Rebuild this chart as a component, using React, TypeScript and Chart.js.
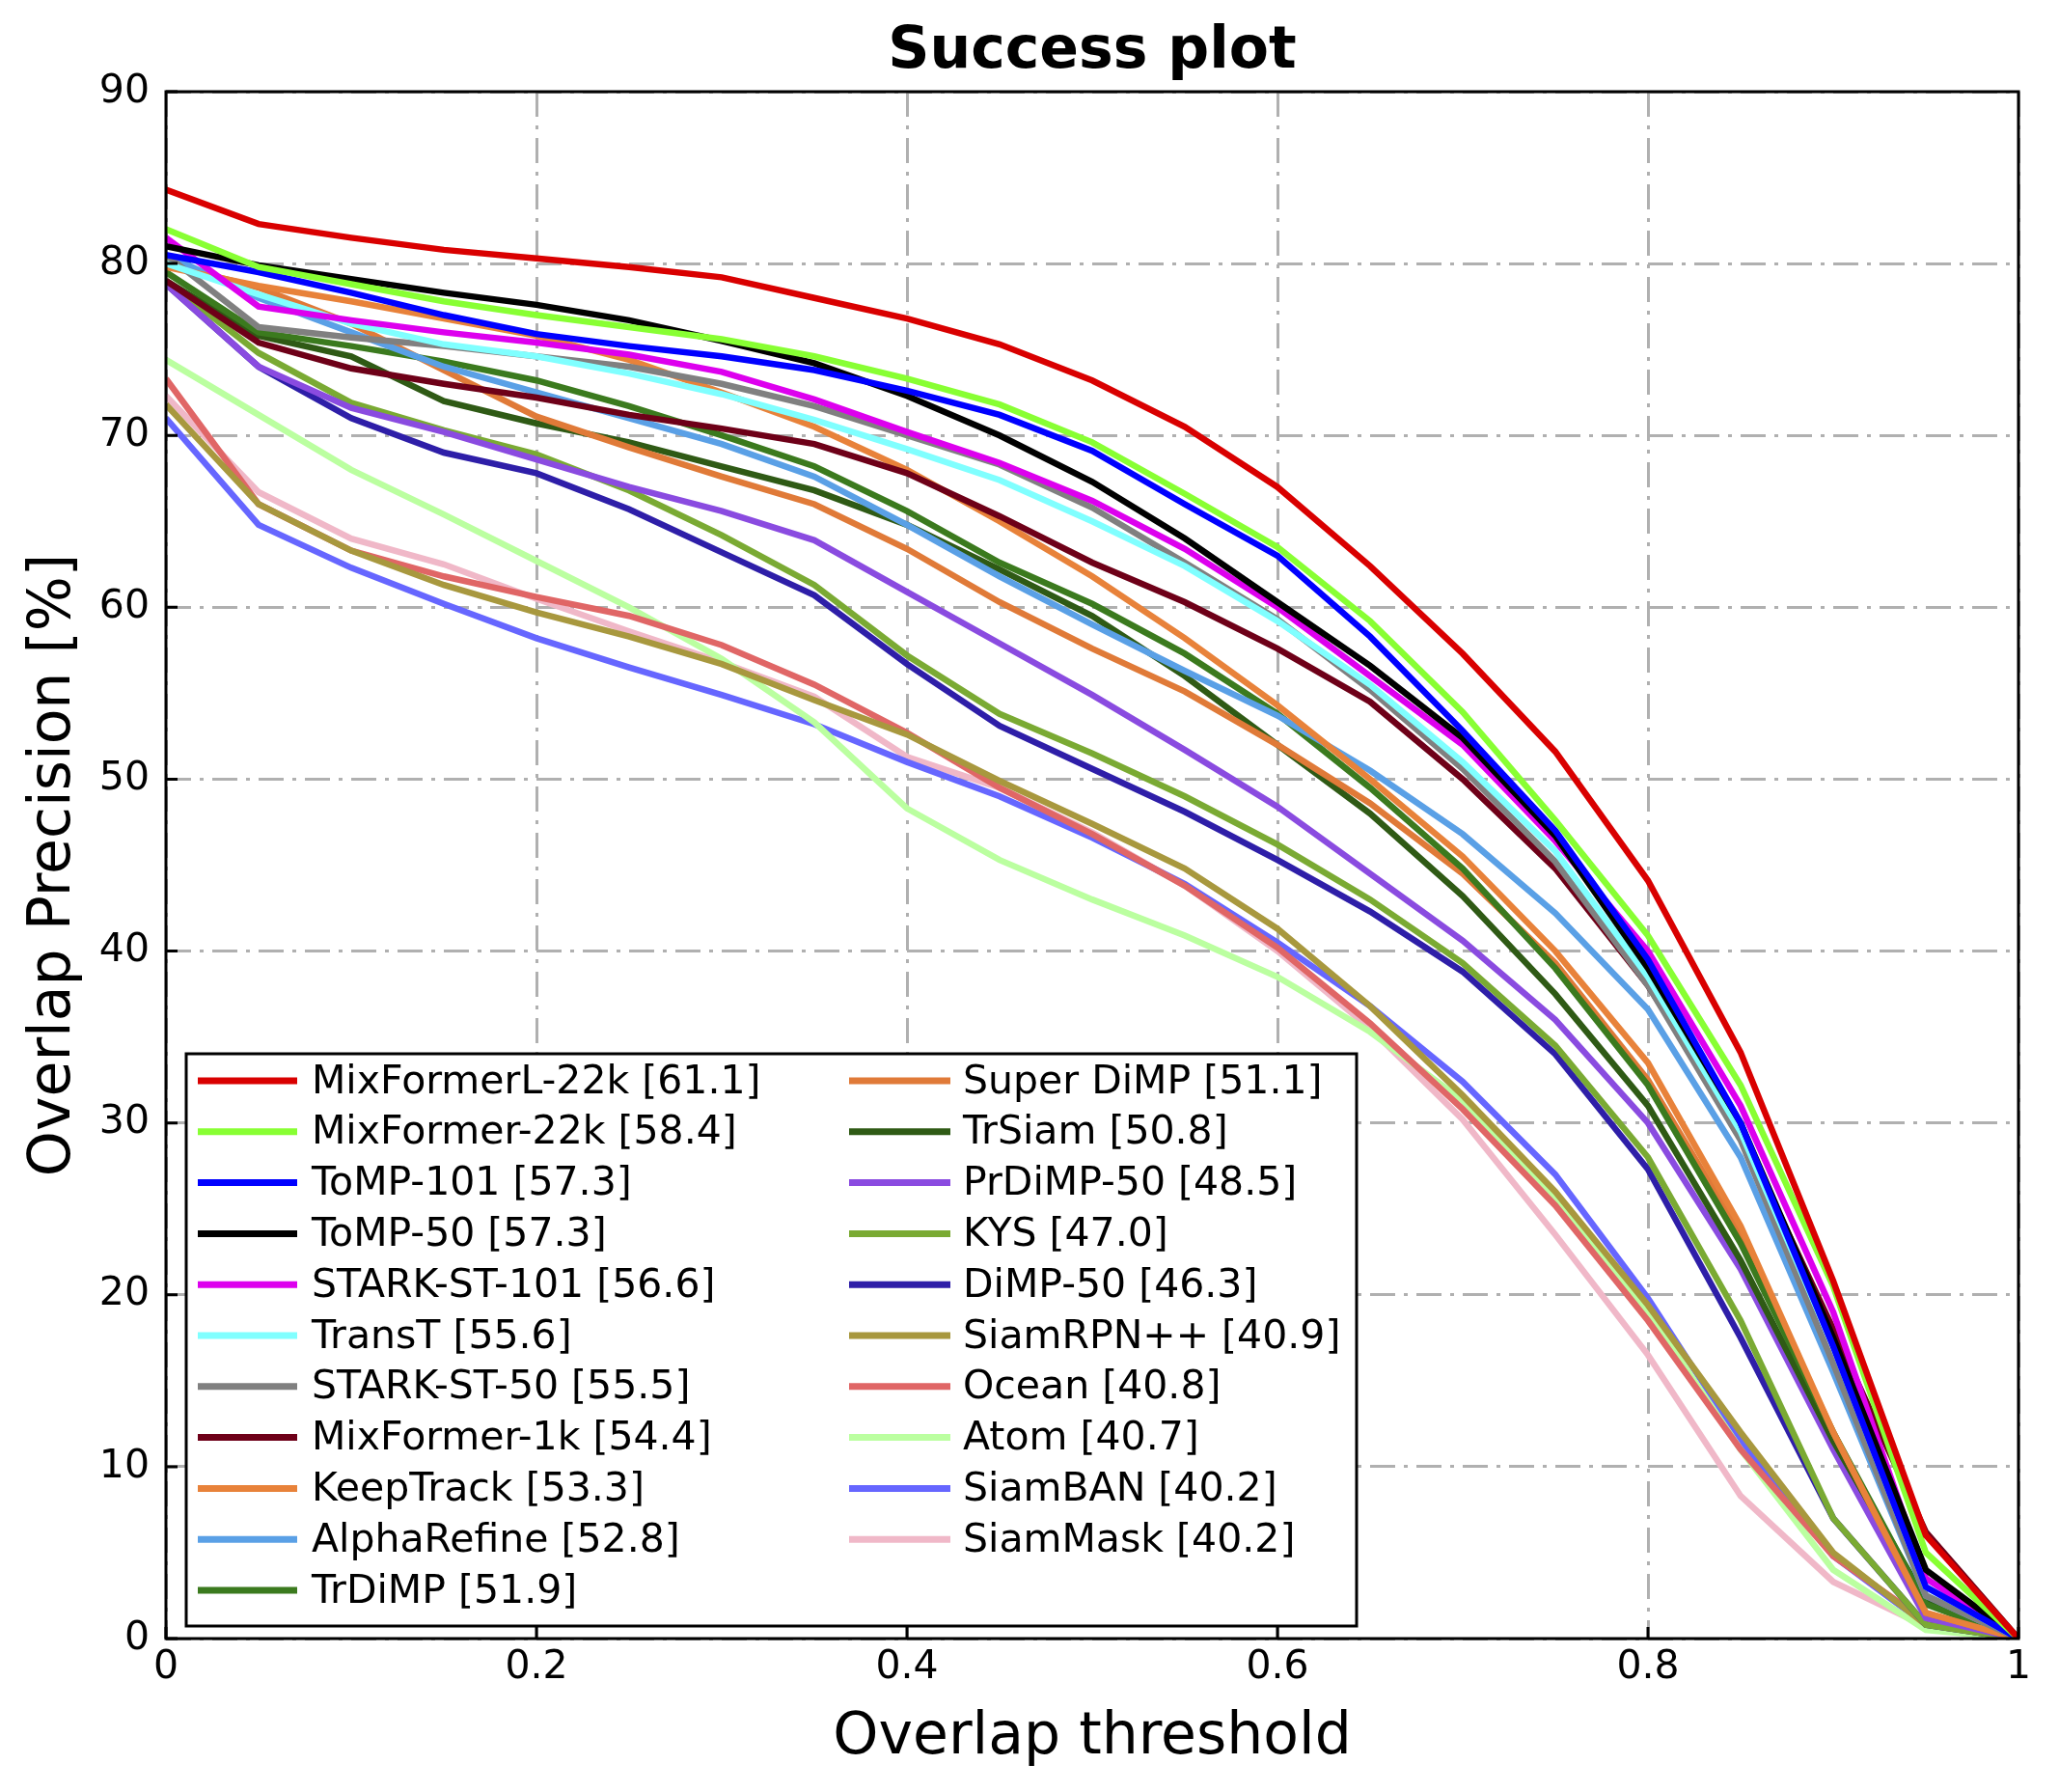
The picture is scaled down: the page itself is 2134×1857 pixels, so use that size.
import { useEffect, useRef } from 'react';
import { Chart, registerables } from 'chart.js';

Chart.register(...registerables);

const FONT = '"DejaVu Sans", "Liberation Sans", sans-serif';

// overlap thresholds (x axis)
const thresholds = [0, 0.05, 0.1, 0.15, 0.2, 0.25, 0.3, 0.35, 0.4, 0.45, 0.5, 0.55, 0.6, 0.65, 0.7, 0.75, 0.8, 0.85, 0.9, 0.95, 1];

const xTickLabels = ['0', '0.2', '0.4', '0.6', '0.8', '1'];

const trackerNames = [
  'MixFormerL-22k [61.1]', 'MixFormer-22k [58.4]', 'ToMP-101 [57.3]', 'ToMP-50 [57.3]',
  'STARK-ST-101 [56.6]', 'TransT [55.6]', 'STARK-ST-50 [55.5]', 'MixFormer-1k [54.4]',
  'KeepTrack [53.3]', 'AlphaRefine [52.8]', 'TrDiMP [51.9]', 'Super DiMP [51.1]',
  'TrSiam [50.8]', 'PrDiMP-50 [48.5]', 'KYS [47.0]', 'DiMP-50 [46.3]',
  'SiamRPN++ [40.9]', 'Ocean [40.8]', 'Atom [40.7]', 'SiamBAN [40.2]', 'SiamMask [40.2]',
];

const trackerColors = [
  '#d90000', '#88ff33', '#0000ff', '#000000',
  '#dd00ee', '#80ffff', '#808080', '#6e0018',
  '#e8823a', '#5aa0e6', '#3b7a1e', '#e07a38',
  '#2f5a15', '#8a4be0', '#7aaa33', '#2e1ea8',
  '#a8983e', '#e06666', '#bbffa0', '#6666ff', '#f0b8c8',
];

const mixFormerL22k = [84.3, 82.3, 81.5, 80.8, 80.3, 79.8, 79.2, 78.0, 76.8, 75.3, 73.2, 70.5, 67.0, 62.4, 57.3, 51.6, 44.1, 34.1, 20.8, 6.0, 0];
const mixFormer22k = [82.0, 79.8, 78.8, 77.8, 77.0, 76.3, 75.6, 74.6, 73.3, 71.8, 69.6, 66.6, 63.5, 59.2, 53.9, 47.6, 40.9, 32.2, 20.5, 5.0, 0];
const tomp101 = [80.5, 79.5, 78.3, 77.0, 75.9, 75.2, 74.6, 73.8, 72.6, 71.2, 69.1, 66.0, 63.0, 58.3, 52.8, 47.0, 39.5, 30.0, 17.0, 3.0, 0];
const tomp50 = [81.0, 79.9, 79.1, 78.3, 77.6, 76.7, 75.5, 74.2, 72.3, 70.0, 67.3, 64.0, 60.3, 56.6, 52.4, 46.7, 39.0, 30.0, 17.5, 4.0, 0];
const starkSt101 = [81.5, 77.5, 76.7, 76.0, 75.4, 74.7, 73.7, 72.1, 70.2, 68.4, 66.2, 63.4, 60.0, 56.0, 52.0, 46.4, 40.0, 31.0, 19.0, 3.5, 0];
const transT = [80.0, 78.2, 76.5, 75.3, 74.6, 73.6, 72.4, 70.9, 69.2, 67.4, 65.0, 62.4, 59.2, 55.5, 51.0, 45.8, 38.5, 29.5, 17.0, 3.0, 0];
const starkSt50 = [80.5, 76.3, 75.7, 75.2, 74.6, 74.0, 73.0, 71.7, 70.0, 68.3, 65.8, 62.6, 59.3, 55.2, 50.6, 45.2, 38.0, 29.0, 16.0, 2.5, 0];
const mixFormer1k = [79.0, 75.4, 73.9, 73.0, 72.2, 71.2, 70.4, 69.5, 67.8, 65.3, 62.6, 60.3, 57.6, 54.5, 50.0, 44.8, 38.0, 29.5, 18.0, 6.2, 0];
const keepTrack = [79.8, 78.7, 77.8, 76.8, 75.8, 74.4, 72.5, 70.5, 68.0, 65.0, 61.8, 58.2, 54.3, 50.0, 45.5, 40.0, 33.5, 24.0, 12.0, 1.5, 0];
const alphaRefine = [80.5, 78.0, 76.0, 74.0, 72.5, 71.0, 69.5, 67.6, 64.8, 61.8, 59.0, 56.3, 53.7, 50.5, 46.8, 42.2, 36.6, 28.0, 15.5, 2.5, 0];
const trDiMP = [79.5, 76.0, 75.2, 74.3, 73.2, 71.7, 70.0, 68.2, 65.6, 62.6, 60.2, 57.3, 53.8, 49.5, 44.8, 39.0, 32.2, 23.0, 12.0, 2.0, 0];
const superDiMP = [80.0, 78.6, 76.5, 73.8, 71.1, 69.3, 67.6, 66.0, 63.4, 60.3, 57.6, 55.1, 52.0, 48.6, 44.5, 39.3, 32.5, 23.5, 12.0, 1.5, 0];
const trSiam = [79.0, 75.8, 74.6, 72.0, 70.7, 69.6, 68.2, 66.8, 64.8, 62.2, 59.5, 56.0, 52.0, 48.0, 43.2, 37.5, 31.0, 22.0, 11.5, 2.2, 0];
const prDiMP50 = [78.8, 74.0, 71.6, 70.2, 68.6, 67.0, 65.6, 63.9, 60.9, 57.9, 54.9, 51.7, 48.4, 44.5, 40.6, 36.0, 30.0, 21.5, 11.0, 1.2, 0];
const kys = [79.0, 74.8, 71.9, 70.3, 68.9, 66.8, 64.2, 61.3, 57.2, 53.8, 51.5, 49.0, 46.2, 43.0, 39.3, 34.5, 28.0, 18.5, 7.0, 0.8, 0];
const diMP50 = [78.8, 74.0, 71.0, 69.0, 67.8, 65.7, 63.2, 60.7, 56.7, 53.1, 50.6, 48.1, 45.3, 42.3, 38.8, 34.0, 27.3, 17.5, 7.0, 0.8, 0];
const siamRPNpp = [71.8, 66.0, 63.3, 61.3, 59.7, 58.3, 56.7, 54.6, 52.6, 49.9, 47.4, 44.8, 41.3, 36.8, 31.6, 26.0, 19.4, 12.0, 5.0, 0.8, 0];
const ocean = [73.3, 66.0, 63.3, 61.8, 60.6, 59.5, 57.8, 55.5, 52.7, 49.5, 46.8, 43.8, 40.2, 35.8, 30.8, 25.2, 18.5, 11.0, 4.8, 1.0, 0];
const atom = [74.4, 71.2, 68.0, 65.4, 62.7, 60.0, 57.0, 53.3, 48.3, 45.3, 43.0, 40.9, 38.5, 35.3, 31.3, 25.7, 19.0, 11.0, 4.0, 0.5, 0];
const siamBAN = [71.0, 64.8, 62.3, 60.2, 58.2, 56.5, 54.9, 53.2, 51.0, 49.0, 46.6, 43.9, 40.5, 36.8, 32.4, 27.0, 19.8, 11.5, 4.8, 0.8, 0];
const siamMask = [72.3, 66.7, 64.0, 62.5, 60.5, 58.6, 56.8, 54.8, 51.3, 49.5, 46.9, 43.8, 40.0, 35.5, 30.2, 23.5, 16.5, 8.3, 3.3, 0.7, 0];

const trackerSeries = [
  mixFormerL22k, mixFormer22k, tomp101, tomp50, starkSt101, transT, starkSt50, mixFormer1k,
  keepTrack, alphaRefine, trDiMP, superDiMP, trSiam, prDiMP50, kys, diMP50,
  siamRPNpp, ocean, atom, siamBAN, siamMask,
];

// frame, inward ticks, legend box and title, drawn on top of the lines
const decorPlugin = {
  id: 'decor',
  afterDatasetsDraw(chart: any) {
    const { ctx, chartArea: a, scales } = chart;
    ctx.save();

    // axes frame
    ctx.strokeStyle = '#000';
    ctx.lineWidth = 3;
    ctx.strokeRect(a.left, a.top, a.right - a.left, a.bottom - a.top);

    // inward tick marks
    ctx.lineWidth = 3;
    ctx.beginPath();
    scales.x.ticks.forEach((t: any) => {
      const px = scales.x.getPixelForValue(t.value);
      ctx.moveTo(px, a.bottom);
      ctx.lineTo(px, a.bottom - 12);
    });
    scales.y.ticks.forEach((t: any) => {
      const py = scales.y.getPixelForValue(t.value);
      ctx.moveTo(a.left, py);
      ctx.lineTo(a.left + 12, py);
    });
    ctx.stroke();

    // legend (two columns, column-major like matplotlib)
    const boxX = 193, boxY = 1092, boxW = 1213, boxH = 593;
    ctx.fillStyle = '#fff';
    ctx.fillRect(boxX, boxY, boxW, boxH);
    ctx.lineWidth = 3;
    ctx.strokeStyle = '#000';
    ctx.strokeRect(boxX, boxY, boxW, boxH);

    const rows = 11;
    const colLine = [[205, 308], [880, 985]];
    const colText = [323, 998];
    ctx.font = `41px ${FONT}`;
    ctx.textBaseline = 'middle';
    ctx.textAlign = 'left';
    chart.data.datasets.forEach((ds: any, i: number) => {
      const col = Math.floor(i / rows);
      const row = i % rows;
      const y = 1120 + row * 52.8;
      ctx.strokeStyle = ds.borderColor;
      ctx.lineWidth = 7;
      ctx.beginPath();
      ctx.moveTo(colLine[col][0], y);
      ctx.lineTo(colLine[col][1], y);
      ctx.stroke();
      ctx.fillStyle = '#000';
      ctx.fillText(ds.label, colText[col], y + 2);
    });

    // title
    ctx.font = `bold 60px ${FONT}`;
    ctx.textAlign = 'center';
    ctx.fillStyle = '#000';
    ctx.fillText('Success plot', (a.left + a.right) / 2, 54);

    ctx.restore();
  },
};

const SuccessPlot: React.FC = () => {
  const chartRef = useRef<HTMLCanvasElement>(null);
  const chartInstance = useRef<Chart | null>(null);

  useEffect(() => {
    document.body.style.margin = '0';
    if (!chartRef.current) return;
    if (chartInstance.current) chartInstance.current.destroy();
    const ctx = chartRef.current.getContext('2d');
    if (!ctx) return;

    const datasets = trackerSeries.map((vals, i) => ({
      label: trackerNames[i],
      data: vals.map((v, j) => ({ x: thresholds[j], y: v })),
      borderColor: trackerColors[i],
      backgroundColor: trackerColors[i],
      borderWidth: 6.5,
      pointRadius: 0,
      tension: 0,
      fill: false,
    }));

    chartInstance.current = new Chart(ctx, {
      type: 'line',
      data: { datasets },
      plugins: [decorPlugin],
      options: {
        responsive: false,
        animation: false,
        devicePixelRatio: 1,
        layout: { padding: { top: 95, right: 42, left: 0, bottom: 0 } },
        plugins: {
          legend: { display: false },
          tooltip: { enabled: false },
          title: { display: false },
        },
        scales: {
          x: {
            type: 'linear',
            min: 0,
            max: 1,
            afterFit: (scale: any) => { scale.height = 159; },
            ticks: {
              stepSize: 0.2,
              color: '#000',
              padding: 6,
              maxRotation: 0,
              font: { family: FONT, size: 41 },
              callback: (value: any, index: number) => xTickLabels[index] ?? String(value),
            },
            grid: { color: '#b0b0b0', lineWidth: 3, drawTicks: false },
            border: { display: false, dash: [26, 9, 4, 9] },
            title: {
              display: true,
              text: 'Overlap threshold',
              color: '#000',
              font: { family: FONT, size: 60 },
              padding: { top: 0, bottom: 20 },
            },
          },
          y: {
            min: 0,
            max: 90,
            afterFit: (scale: any) => { scale.width = 172; },
            ticks: {
              stepSize: 10,
              color: '#000',
              padding: 17,
              font: { family: FONT, size: 41 },
            },
            grid: { color: '#b0b0b0', lineWidth: 3, drawTicks: false },
            border: { display: false, dash: [26, 9, 4, 9] },
            title: {
              display: true,
              text: 'Overlap Precision [%]',
              color: '#000',
              font: { family: FONT, size: 60 },
              padding: { top: 20, bottom: 0 },
            },
          },
        },
      },
    });

    return () => {
      if (chartInstance.current) {
        chartInstance.current.destroy();
        chartInstance.current = null;
      }
    };
  }, []);

  return (
    <div style={{ width: 2134, height: 1857, background: '#fff' }}>
      <canvas ref={chartRef} width={2134} height={1857} />
    </div>
  );
};

export default function App() {
  return <SuccessPlot />;
}
